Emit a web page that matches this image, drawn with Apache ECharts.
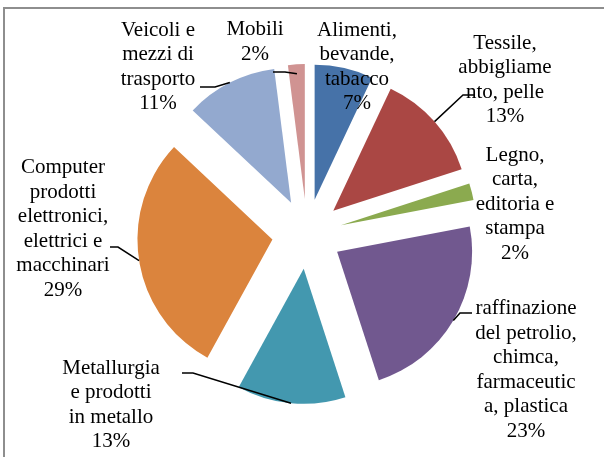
<!DOCTYPE html>
<html>
<head>
<meta charset="utf-8">
<script src="https://cdn.jsdelivr.net/npm/echarts@6/dist/echarts.min.js"></script>
<style>
  html, body { margin: 0; padding: 0; background: #ffffff; }
  #chart { width: 604px; height: 457px; }
</style>
</head>
<body>
<div id="chart"></div>
<script>
// ---- data ----
const categories = [
  'Alimenti,\nbevande,\ntabacco',
  'Tessile,\nabbigliame\nnto, pelle',
  'Legno,\ncarta,\neditoria e\nstampa',
  'raffinazione\ndel petrolio,\nchimca,\nfarmaceutic\na, plastica',
  'Metallurgia\ne prodotti\nin metallo',
  'Computer\nprodotti\nelettronici,\nelettrici e\nmacchinari',
  'Veicoli e\nmezzi di\ntrasporto',
  'Mobili'
];
const values = [7, 13, 2, 23, 13, 29, 11, 2];

// ---- styles / layout ----
const colors = ['#4672A8', '#AA4744', '#8BAA4F', '#71588F', '#4398AF', '#DB843D', '#93A9CF', '#D09392'];
const serifFont = '"Liberation Serif", "Times New Roman", serif';
const explodeOffset = 35;
const labelAnchors = [
  [357, 67], [505, 80], [515, 204], [526, 370],
  [111, 405], [63, 229], [158, 67], [255, 42]
];
// elbow & label-side end of leader lines (null = no leader line)
const leaderTails = [
  null,
  [[463, 95], [475, 95]],
  null,
  [[460, 313], [472, 313]],
  [[193, 373], [182, 373]],
  [[118, 247], [110, 247]],
  [[215, 87], [200, 87]],
  [[285, 72], [273, 72]]
];
// where on the slice (fraction of radius) the leader line starts
const leaderDepth = [1, 1, 1, 1, 1, 1, 1, 0.93];

const chart = echarts.init(document.getElementById('chart'));

const pieBase = {
  type: 'pie',
  center: [307, 234],
  radius: [0, 135],
  startAngle: 90,
  clockwise: true,
  avoidLabelOverlap: false,
  emphasis: { disabled: true }
};

chart.setOption({
  animation: false,
  series: [
    Object.assign({}, pieBase, {
      name: 'slices',
      selectedMode: 'multiple',
      selectedOffset: explodeOffset,
      itemStyle: { borderWidth: 0 },
      select: { itemStyle: { borderWidth: 0 } },
      label: { show: false },
      labelLine: { show: false },
      data: categories.map((c, i) => ({
        name: c, value: values[i], selected: true,
        itemStyle: { color: colors[i] }
      }))
    }),
    Object.assign({}, pieBase, {
      name: 'labels',
      silent: true,
      selectedMode: false,
      itemStyle: { color: 'rgba(0,0,0,0)', borderWidth: 0 },
      label: {
        show: true,
        position: 'outside',
        formatter: p => p.name + '\n' + p.value + '%',
        fontFamily: serifFont,
        fontSize: 21,
        fontWeight: 'normal',
        lineHeight: 24.5,
        color: '#000000',
        align: 'center'
      },
      labelLine: { show: false },
      labelLayout: function (params) {
        const i = params.dataIndex;
        return {
          x: labelAnchors[i][0],
          y: labelAnchors[i][1],
          align: 'center',
          verticalAlign: 'middle'
        };
      },
      data: categories.map((c, i) => ({ name: c, value: values[i] }))
    })
  ]
});

// Leader lines, starting from the library's computed slice layout
const pieData = chart.getModel().getSeriesByIndex(0).getData();
const graphics = [{
  type: 'rect',
  shape: { x: 4, y: 8, width: 640, height: 480 },
  style: { fill: 'none', stroke: '#8e8e8e', lineWidth: 2 },
  silent: true,
  z: -10
}];
categories.forEach((c, i) => {
  if (!leaderTails[i]) return;
  const lay = pieData.getItemLayout(i);
  const mid = (lay.startAngle + lay.endAngle) / 2;
  const ox = lay.cx + explodeOffset * Math.cos(mid);
  const oy = lay.cy + explodeOffset * Math.sin(mid);
  const rr = lay.r * leaderDepth[i];
  const arcPt = [ox + rr * Math.cos(mid), oy + rr * Math.sin(mid)];
  graphics.push({
    type: 'polyline',
    shape: { points: [arcPt, leaderTails[i][0], leaderTails[i][1]] },
    style: { stroke: '#000000', lineWidth: 1.5, fill: 'none' },
    silent: true,
    z: 10
  });
});
chart.setOption({ graphic: graphics });
</script>
</body>
</html>
